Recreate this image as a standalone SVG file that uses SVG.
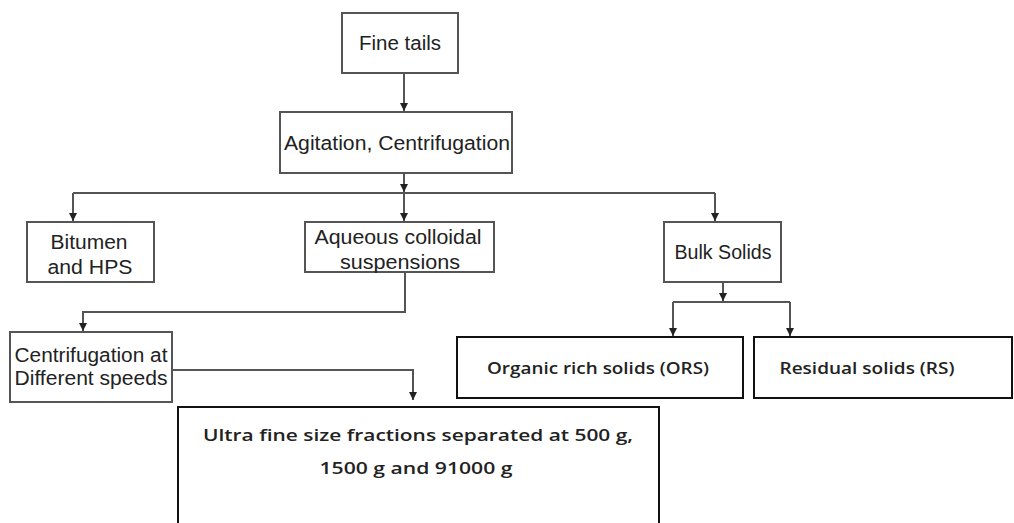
<svg xmlns="http://www.w3.org/2000/svg" width="1014" height="523" viewBox="0 0 1014 523">
<defs>
<marker id="ah" viewBox="0 0 8 10" refX="8" refY="5" markerWidth="8" markerHeight="10" markerUnits="userSpaceOnUse" orient="auto">
<path d="M0,1 L8,5 L0,9 Z" fill="#222"/>
</marker>
</defs>
<style>
.box{fill:#fff;stroke:#555;stroke-width:2}
.box2{fill:#fff;stroke:#111;stroke-width:2}
.t{font-family:"Liberation Sans",Arial,sans-serif;font-size:20px;fill:#222;text-anchor:middle}
.c{font-family:"Open Sans","Noto Sans",sans-serif;font-weight:600;font-size:17px;fill:#222;text-anchor:middle}
.ln{fill:none;stroke:#555;stroke-width:2}
</style>
<rect width="1014" height="523" fill="#fff"/>
<g id="connectors">
<path class="ln" d="M404,73 V111" marker-end="url(#ah)"/>
<path class="ln" d="M404,173 V192" marker-end="url(#ah)"/>
<path class="ln" d="M73,193 H715"/>
<path class="ln" d="M73,193 V221" marker-end="url(#ah)"/>
<path class="ln" d="M404,193 V221" marker-end="url(#ah)"/>
<path class="ln" d="M715,193 V221" marker-end="url(#ah)"/>
<path class="ln" d="M723,282 V301" marker-end="url(#ah)"/>
<path class="ln" d="M673,302 H790"/>
<path class="ln" d="M673,302 V336" marker-end="url(#ah)"/>
<path class="ln" d="M790,302 V336" marker-end="url(#ah)"/>
<path class="ln" d="M405,272 V312 H83 V331" marker-end="url(#ah)"/>
<path class="ln" d="M172,370 H413 V400" marker-end="url(#ah)"/>
</g>
<g id="n-finetails">
<rect class="box" x="342" y="13" width="116" height="60"/>
<text class="t" x="400" y="50" textLength="82" lengthAdjust="spacingAndGlyphs">Fine tails</text>
</g>
<g id="n-agitation">
<rect class="box" x="280" y="112" width="232" height="61"/>
<text class="t" x="397" y="150" textLength="226" lengthAdjust="spacingAndGlyphs">Agitation, Centrifugation</text>
</g>
<g id="n-bitumen">
<rect class="box" x="27" y="222" width="127" height="60"/>
<text class="t" x="89" y="249" textLength="77" lengthAdjust="spacingAndGlyphs">Bitumen</text>
<text class="t" x="90" y="274" textLength="85" lengthAdjust="spacingAndGlyphs">and HPS</text>
</g>
<g id="n-aqueous">
<rect class="box" x="305" y="222" width="189" height="50"/>
<text class="t" x="398" y="244" textLength="167" lengthAdjust="spacingAndGlyphs">Aqueous colloidal</text>
<text class="t" x="400" y="269" textLength="120" lengthAdjust="spacingAndGlyphs">suspensions</text>
</g>
<g id="n-bulk">
<rect class="box" x="664" y="222" width="117" height="60"/>
<text class="t" x="723" y="259" textLength="97" lengthAdjust="spacingAndGlyphs">Bulk Solids</text>
</g>
<g id="n-ors">
<rect class="box2" x="457" y="337" width="286" height="61"/>
<text class="c" x="598" y="374" textLength="222" lengthAdjust="spacingAndGlyphs">Organic rich solids  (ORS)</text>
</g>
<g id="n-rs">
<rect class="box2" x="754" y="337" width="258" height="61"/>
<text class="c" x="867" y="374" textLength="175" lengthAdjust="spacingAndGlyphs">Residual solids  (RS)</text>
</g>
<g id="n-centrifugation">
<rect class="box" x="10" y="332" width="162" height="70"/>
<text class="t" x="91" y="362" textLength="153" lengthAdjust="spacingAndGlyphs">Centrifugation at</text>
<text class="t" x="91" y="385" textLength="153" lengthAdjust="spacingAndGlyphs">Different speeds</text>
</g>
<g id="n-ultra">
<rect class="box2" x="178" y="407" width="481" height="130"/>
<text class="c" x="418" y="441" textLength="430" lengthAdjust="spacingAndGlyphs">Ultra fine size fractions  separated at  500 g,</text>
<text class="c" x="416" y="474" textLength="193" lengthAdjust="spacingAndGlyphs">1500 g and 91000 g</text>
</g>
</svg>
